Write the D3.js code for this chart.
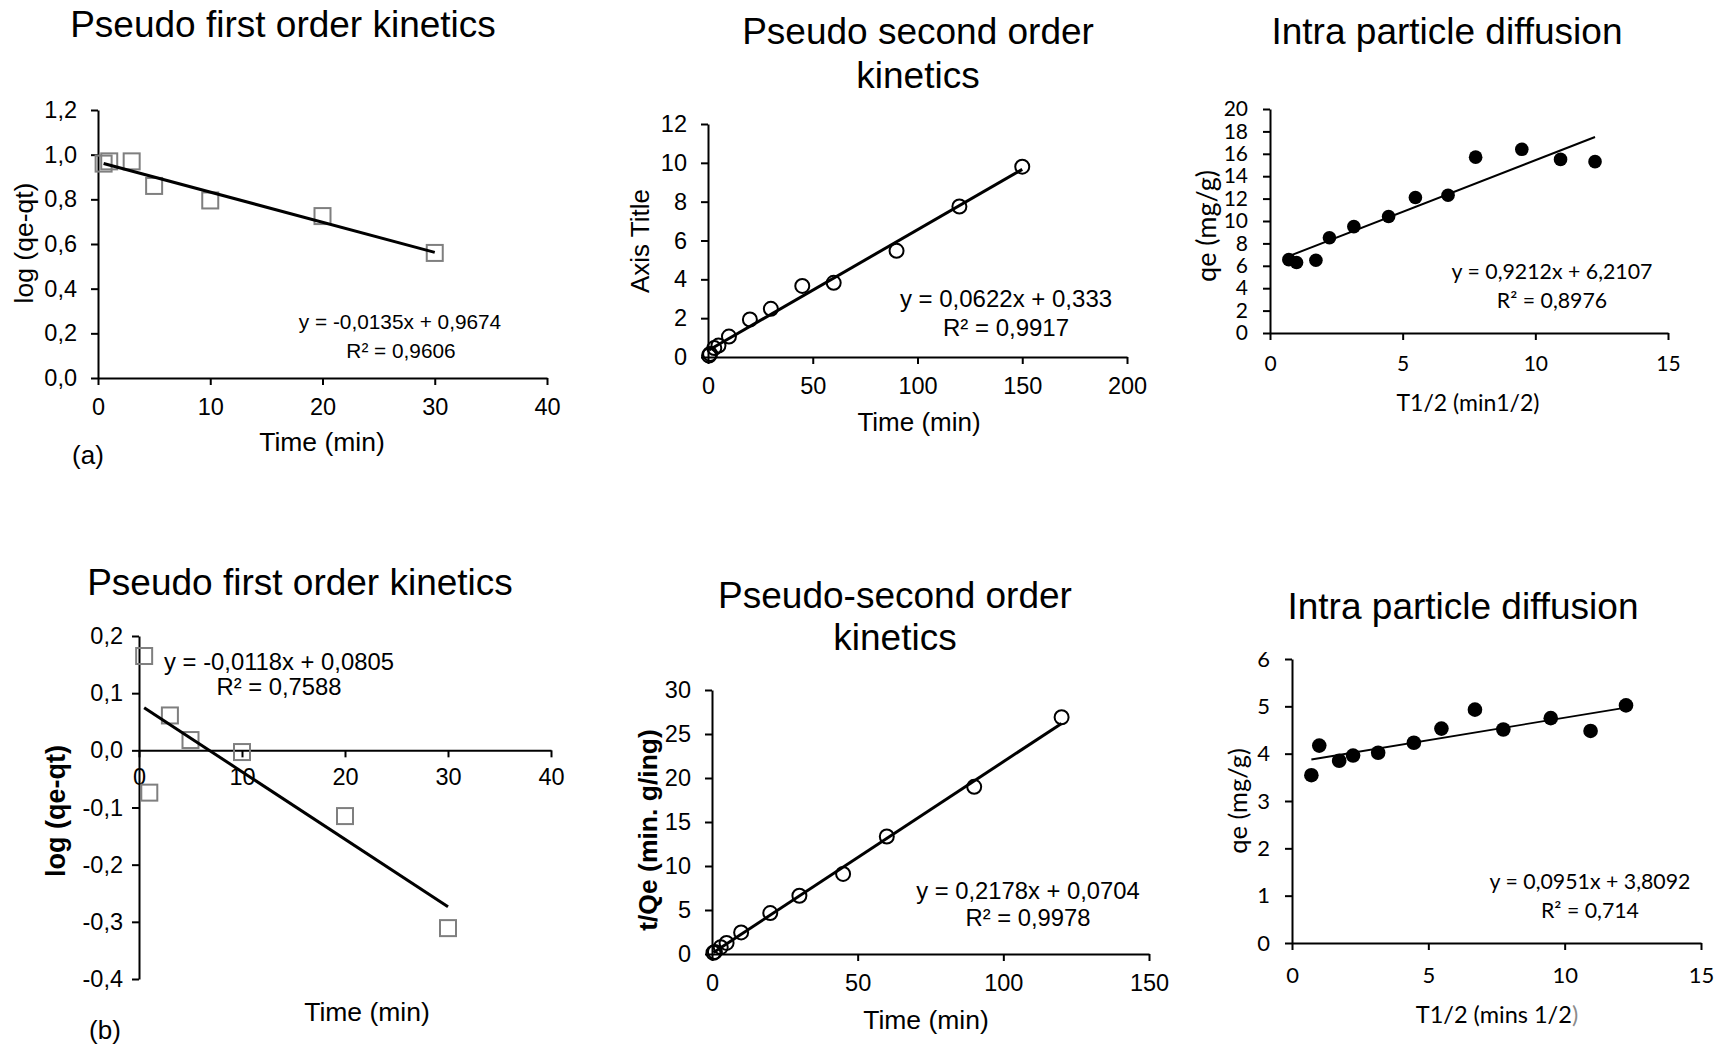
<!DOCTYPE html>
<html><head><meta charset="utf-8">
<script src="https://cdn.jsdelivr.net/npm/d3@7"></script>
<style>
html,body{margin:0;padding:0;background:#fff;}
svg{display:block;}
</style></head><body>
<svg id="chart" width="1729" height="1049"></svg>
<script>
// ---------- DATA ----------
// (a) row
const timeA1 = [0.5, 1, 3, 5, 10, 20, 30];
const logQA = [0.96, 0.97, 0.97, 0.86, 0.795, 0.725, 0.56];
const timeA2 = [0.5, 1, 3, 5, 10, 20, 30, 45, 60, 90, 120, 150];
const tOverQA = [0.076, 0.16, 0.46, 0.59, 1.05, 1.93, 2.48, 3.66, 3.82, 5.47, 7.75, 9.8];
const sqrtTA = [0.71, 1.0, 1.73, 2.24, 3.16, 4.47, 5.48, 6.71, 7.75, 9.49, 10.95, 12.25];
const qeA = [6.55, 6.3, 6.5, 8.5, 9.5, 10.4, 12.1, 12.3, 15.7, 16.4, 15.5, 15.3];
// (b) row
const timeB1 = [0.5, 1, 3, 5, 10, 20, 30];
const logQB = [0.165, -0.074, 0.061, 0.018, -0.003, -0.115, -0.311];
const timeB2 = [0.5, 1, 3, 5, 10, 20, 30, 45, 60, 90, 120];
const tOverQB = [0.14, 0.24, 0.78, 1.26, 2.45, 4.65, 6.62, 9.1, 13.35, 19.0, 26.9];
const sqrtTB = [0.71, 1.0, 1.73, 2.24, 3.16, 4.47, 5.48, 6.71, 7.75, 9.49, 10.95, 12.25];
const qeB = [3.545, 4.17, 3.85, 3.96, 4.02, 4.23, 4.53, 4.93, 4.51, 4.75, 4.48, 5.02];

// linear fits (slope, intercept) as printed on the charts
const fitSlopes = [-0.0135, 0.0622, 0.9212, -0.0118, 0.2178, 0.0951];
const fitIntercepts = [0.9674, 0.333, 6.2107, 0.0805, 0.0704, 3.8092];
const eqLines = ["y = -0,0135x + 0,9674", "y = 0,0622x + 0,333", "y = 0,9212x + 6,2107",
                 "y = -0,0118x + 0,0805", "y = 0,2178x + 0,0704", "y = 0,0951x + 3,8092"];
const r2Lines = ["R² = 0,9606", "R² = 0,9917", "R² = 0,8976", "R² = 0,7588", "R² = 0,9978", "R² = 0,714"];

// titles and axis labels
const titles = [["Pseudo first order kinetics"], ["Pseudo second order", "kinetics"], ["Intra particle diffusion"],
                ["Pseudo first order kinetics"], ["Pseudo-second order", "kinetics"], ["Intra particle diffusion"]];
const xTitles = ["Time (min)", "Time (min)", "T1/2 (min1/2)", "Time (min)", "Time (min)", "T1/2 (mins 1/2"];
const yTitles = ["log (qe-qt)", "Axis Title", "qe (mg/g)", "log (qe-qt)", "t/Qe (min. g/ing)", "qe (mg/g)"];
const panelTags = ["(a)", "(b)"];

// tick values
const xTicks1 = [0, 10, 20, 30, 40];
const yTicks1 = [0, 0.2, 0.4, 0.6, 0.8, 1.0, 1.2];
const xTicks2 = [0, 50, 100, 150, 200];
const yTicks2 = [0, 2, 4, 6, 8, 10, 12];
const xTicks3 = [0, 5, 10, 15];
const yTicks3 = [0, 2, 4, 6, 8, 10, 12, 14, 16, 18, 20];
const xTicks4 = [0, 10, 20, 30, 40];
const yTicks4 = [0.2, 0.1, 0.0, -0.1, -0.2, -0.3, -0.4];
const xTicks5 = [0, 50, 100, 150];
const yTicks5 = [0, 5, 10, 15, 20, 25, 30];
const xTicks6 = [0, 5, 10, 15];
const yTicks6 = [0, 1, 2, 3, 4, 5, 6];

// ---------- DRAWING ----------
const svg = d3.select('#chart');
svg.append('rect').attr('width', 1729).attr('height', 1049).attr('fill', '#fff');
const ARIAL = "'Liberation Sans', Arial, sans-serif";
const CALI = "Lato, 'Open Sans', sans-serif";
const comma1 = v => v.toFixed(1).replace('.', ',');
const plain = v => String(v);

function panel(c) {
  const g = svg.append('g');
  const x = d3.scaleLinear().domain(c.xDomain).range(c.xRange);
  const y = d3.scaleLinear().domain(c.yDomain).range(c.yRange);
  const xAxisY = c.xAxisAt !== undefined ? y(c.xAxisAt) : d3.max(c.yRange);

  const xa = d3.axisBottom(x).tickValues(c.xTicks).tickFormat(c.xFmt)
    .tickSize(c.tick).tickPadding(c.xPad).tickSizeOuter(0);
  const ya = d3.axisLeft(y).tickValues(c.yTicks).tickFormat(c.yFmt)
    .tickSize(c.tick).tickPadding(c.yPad).tickSizeOuter(0);
  const gx = g.append('g').attr('transform', `translate(0,${xAxisY})`).call(xa);
  const gy = g.append('g').attr('transform', `translate(${c.xRange[0]},0)`).call(ya);
  [gx, gy].forEach(a => {
    a.select('.domain').attr('stroke', '#000').attr('stroke-width', c.axisW);
    a.selectAll('.tick line').attr('stroke', '#000').attr('stroke-width', c.axisW);
    a.selectAll('text').attr('fill', '#000').style('font-family', c.font).style('font-size', c.tickFs + 'px');
  });

  // markers
  const pts = c.xs.map((v, i) => [v, c.ys[i]]);
  if (c.marker === 'square') {
    g.append('g').selectAll('rect').data(pts).join('rect')
      .attr('x', d => x(d[0]) - c.msize / 2).attr('y', d => y(d[1]) - c.msize / 2)
      .attr('width', c.msize).attr('height', c.msize)
      .attr('fill', 'none').attr('stroke', '#7f7f7f').attr('stroke-width', 2);
  } else if (c.marker === 'circle') {
    g.append('g').selectAll('circle').data(pts).join('circle')
      .attr('cx', d => x(d[0])).attr('cy', d => y(d[1])).attr('r', c.msize)
      .attr('fill', 'none').attr('stroke', '#000').attr('stroke-width', 2);
  } else {
    g.append('g').selectAll('circle').data(pts).join('circle')
      .attr('cx', d => x(d[0])).attr('cy', d => y(d[1])).attr('r', c.msize)
      .attr('fill', '#000');
  }

  // trend line
  const x0 = d3.min(c.xs), x1 = d3.max(c.xs);
  const fit = [x0, x1].map(v => [v, c.slope * v + c.intercept]);
  g.append('path').datum(fit)
    .attr('d', d3.line().x(d => x(d[0])).y(d => y(d[1])))
    .attr('stroke', '#000').attr('stroke-width', c.lineW).attr('fill', 'none');

  // title
  c.title.forEach((t, i) => {
    g.append('text').attr('x', c.titlePos[0]).attr('y', c.titlePos[1] + i * c.titleGap)
      .attr('text-anchor', 'middle').style('font-family', ARIAL).style('font-size', c.titleFs + 'px')
      .attr('fill', '#000').text(t);
  });
  // axis titles
  const xt = g.append('text').attr('x', c.xTitlePos[0]).attr('y', c.xTitlePos[1]).attr('text-anchor', 'middle')
    .style('font-family', c.font).style('font-size', c.xLabelFs + 'px').attr('fill', '#000').text(c.xTitle);
  if (c.xTitleTail) xt.append('tspan').attr('fill', '#8c8c8c').text(c.xTitleTail);
  g.append('text').attr('transform', `translate(${c.yTitlePos[0]},${c.yTitlePos[1]}) rotate(-90)`)
    .attr('text-anchor', 'middle').style('font-family', c.font).style('font-size', c.yLabelFs + 'px')
    .style('font-weight', c.yBold ? 'bold' : 'normal').attr('fill', '#000').text(c.yTitle);
  // equation
  g.append('text').attr('x', c.eqPos[0]).attr('y', c.eqPos[1]).attr('text-anchor', 'middle')
    .style('font-family', c.font).style('font-size', c.eqFs + 'px').attr('fill', '#000').text(c.eq);
  g.append('text').attr('x', c.r2Pos[0]).attr('y', c.r2Pos[1]).attr('text-anchor', 'middle')
    .style('font-family', c.font).style('font-size', c.eqFs + 'px').attr('fill', '#000').text(c.r2);
  if (c.tag) {
    g.append('text').attr('x', c.tagPos[0]).attr('y', c.tagPos[1]).attr('text-anchor', 'middle')
      .style('font-family', ARIAL).style('font-size', '26px').attr('fill', '#000').text(c.tag);
  }
}

const base = {tick: 7, xPad: 13, yPad: 14, axisW: 2, titleFs: 37, titleGap: 44, tickFs: 23.5,
              xLabelFs: 26.5, yLabelFs: 26.5, eqFs: 21.5, font: ARIAL};

panel(Object.assign({}, base, {
  xDomain: [0, 40], yDomain: [0, 1.2], xRange: [98, 547], yRange: [378, 110],
  xTicks: xTicks1, yTicks: yTicks1, xFmt: plain, yFmt: comma1,
  xs: timeA1, ys: logQA, marker: 'square', msize: 16, lineW: 3,
  slope: fitSlopes[0], intercept: fitIntercepts[0], eqFs: 20.8,
  title: titles[0], titlePos: [283, 37],
  xTitle: xTitles[0], xTitlePos: [322, 451], yTitle: yTitles[0], yTitlePos: [33, 243],
  eq: eqLines[0], eqPos: [400, 329], r2: r2Lines[0], r2Pos: [401, 358],
  tag: panelTags[0], tagPos: [88, 464]
}));

panel(Object.assign({}, base, {
  xDomain: [0, 200], yDomain: [0, 12], xRange: [708, 1127], yRange: [357, 124],
  xTicks: xTicks2, yTicks: yTicks2, xFmt: plain, yFmt: plain,
  xs: timeA2, ys: tOverQA, marker: 'circle', msize: 7, lineW: 3,
  slope: fitSlopes[1], intercept: fitIntercepts[1],
  title: titles[1], titlePos: [918, 44],
  xLabelFs: 26, yLabelFs: 26, eqFs: 24,
  xTitle: xTitles[1], xTitlePos: [919, 431], yTitle: yTitles[1], yTitlePos: [649, 241],
  eq: eqLines[1], eqPos: [1006, 307], r2: r2Lines[1], r2Pos: [1006, 336]
}));

panel(Object.assign({}, base, {
  font: CALI, tickFs: 21, xLabelFs: 23, yLabelFs: 27, eqFs: 21.3, xPad: 16, yPad: 15,
  xDomain: [0, 15], yDomain: [0, 20], xRange: [1270, 1668], yRange: [333, 109],
  xTicks: xTicks3, yTicks: yTicks3, xFmt: plain, yFmt: plain,
  xs: sqrtTA, ys: qeA, marker: 'dot', msize: 6.8, lineW: 2,
  slope: fitSlopes[2], intercept: fitIntercepts[2],
  title: titles[2], titlePos: [1447, 44],
  xTitle: xTitles[2], xTitlePos: [1468, 411], yTitle: yTitles[2], yTitlePos: [1216, 226],
  eq: eqLines[2], eqPos: [1552, 279], r2: r2Lines[2], r2Pos: [1552, 308]
}));

panel(Object.assign({}, base, {
  xDomain: [0, 40], yDomain: [0.2, -0.4], xRange: [139, 551], yRange: [636, 979], xAxisAt: 0,
  xTicks: xTicks4, yTicks: yTicks4, xFmt: plain, yFmt: comma1, xPad: 11, yPad: 9,
  xs: timeB1, ys: logQB, marker: 'square', msize: 16, lineW: 3,
  slope: fitSlopes[3], intercept: fitIntercepts[3],
  eqFs: 23.8, yLabelFs: 27,
  title: titles[3], titlePos: [300, 595],
  xTitle: xTitles[3], xTitlePos: [367, 1021], yTitle: yTitles[3], yTitlePos: [65, 811], yBold: true,
  eq: eqLines[3], eqPos: [279, 670], r2: r2Lines[3], r2Pos: [279, 695],
  tag: panelTags[1], tagPos: [105, 1039]
}));

panel(Object.assign({}, base, {
  xDomain: [0, 150], yDomain: [0, 30], xRange: [712, 1149], yRange: [954, 690],
  xTicks: xTicks5, yTicks: yTicks5, xFmt: plain, yFmt: plain,
  xs: timeB2, ys: tOverQB, marker: 'circle', msize: 7, lineW: 3,
  slope: fitSlopes[4], intercept: fitIntercepts[4],
  eqFs: 23.8, yLabelFs: 26.5,
  title: titles[4], titlePos: [895, 608], titleGap: 42,
  xTitle: xTitles[4], xTitlePos: [926, 1029], yTitle: yTitles[4], yTitlePos: [657, 830], yBold: true,
  eq: eqLines[4], eqPos: [1028, 899], r2: r2Lines[4], r2Pos: [1028, 926]
}));

panel(Object.assign({}, base, {
  font: CALI, tickFs: 22, xLabelFs: 23.5, yLabelFs: 25.5, eqFs: 21.3, xPad: 17, yPad: 15,
  xDomain: [0, 15], yDomain: [0, 6], xRange: [1292, 1701], yRange: [943, 659],
  xTicks: xTicks6, yTicks: yTicks6, xFmt: plain, yFmt: plain,
  xs: sqrtTB, ys: qeB, marker: 'dot', msize: 7.3, lineW: 1.8,
  slope: fitSlopes[5], intercept: fitIntercepts[5],
  title: titles[5], titlePos: [1463, 619],
  xTitle: xTitles[5], xTitleTail: ")", xTitlePos: [1497, 1023], yTitle: yTitles[5], yTitlePos: [1247, 801],
  eq: eqLines[5], eqPos: [1590, 889], r2: r2Lines[5], r2Pos: [1590, 918]
}));
</script>
</body></html>
